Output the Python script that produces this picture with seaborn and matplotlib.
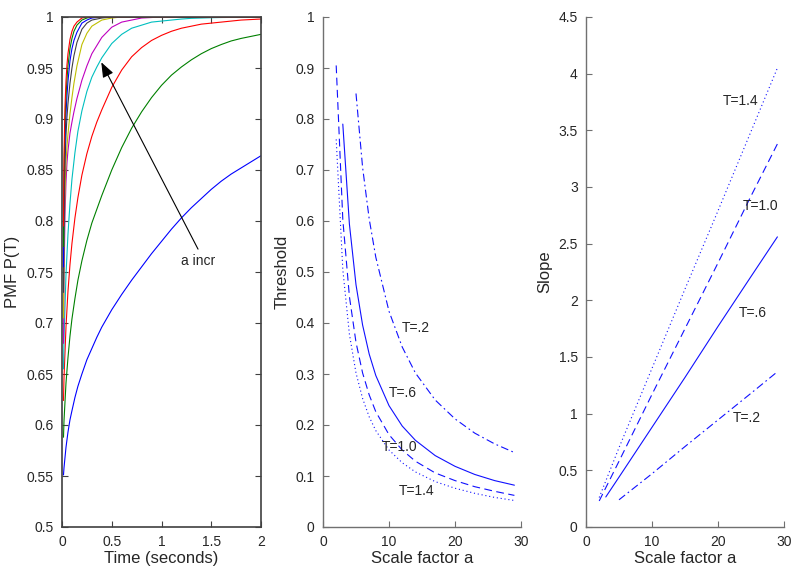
import matplotlib
matplotlib.use("Agg")
import matplotlib.pyplot as plt
from matplotlib.ticker import FuncFormatter, MultipleLocator
import seaborn as sns

# ---- left panel: PMF P(T) for increasing scale factor a ----
# slower curves (read on a fine time grid)
t_slow = [0.015, 0.02, 0.04, 0.06, 0.08, 0.1, 0.13, 0.16, 0.2, 0.25, 0.3, 0.35, 0.4, 0.5, 0.6,
          0.7, 0.8, 0.9, 1.0, 1.1, 1.2, 1.3, 1.4, 1.5, 1.6, 1.7, 1.8, 1.9, 2.0]
pmf_1 = [0.551, 0.558, 0.578, 0.593, 0.605, 0.614, 0.627, 0.638, 0.650, 0.664, 0.675, 0.686, 0.696, 0.713, 0.728,
         0.742, 0.755, 0.768, 0.780, 0.792, 0.803, 0.813, 0.822, 0.831, 0.839, 0.846, 0.852, 0.858, 0.864]
pmf_2 = [0.588, 0.604, 0.641, 0.666, 0.687, 0.704, 0.724, 0.742, 0.761, 0.781, 0.798, 0.8115, 0.825, 0.850, 0.872,
         0.891, 0.907, 0.921, 0.933, 0.943, 0.951, 0.958, 0.964, 0.969, 0.973, 0.9765, 0.979, 0.981, 0.983]
pmf_3 = [0.624, 0.646, 0.696, 0.731, 0.757, 0.778, 0.803, 0.823, 0.845, 0.866, 0.883, 0.897, 0.909, 0.931, 0.948,
         0.961, 0.970, 0.977, 0.982, 0.986, 0.989, 0.991, 0.993, 0.994, 0.995, 0.996, 0.997, 0.9975, 0.998]
pmf_4 = [0.655, 0.684, 0.747, 0.787, 0.817, 0.841, 0.867, 0.888, 0.908, 0.927, 0.941, 0.951, 0.960, 0.974, 0.983,
         0.989, 0.992, 0.995, 0.996, 0.997, 0.998, 0.9987, 0.999, 0.9993, 0.9995, 0.9996, 0.9997, 0.9998, 0.9998]

# faster curves (they saturate early)
t_fast = [0.015, 0.02, 0.03, 0.04, 0.05, 0.06, 0.08, 0.1, 0.12, 0.15, 0.2, 0.25, 0.3, 0.4, 0.5,
          0.6, 0.8, 1.0, 1.5, 2.0]
pmf_5 = [0.680, 0.740, 0.805, 0.838, 0.857, 0.869, 0.886, 0.897, 0.907, 0.920, 0.938, 0.952, 0.964, 0.980, 0.990,
         0.995, 0.999, 1, 1, 1]
pmf_6 = [0.705, 0.770, 0.830, 0.858, 0.873, 0.885, 0.905, 0.921, 0.935, 0.952, 0.973, 0.984, 0.991, 0.997, 0.999,
         1, 1, 1, 1, 1]
pmf_7 = [0.730, 0.800, 0.855, 0.884, 0.902, 0.915, 0.935, 0.950, 0.962, 0.975, 0.988, 0.994, 0.997, 0.999, 1,
         1, 1, 1, 1, 1]
pmf_8 = [0.755, 0.825, 0.878, 0.905, 0.923, 0.937, 0.957, 0.969, 0.977, 0.985, 0.994, 0.997, 0.999, 1, 1,
         1, 1, 1, 1, 1]
pmf_9 = [0.775, 0.845, 0.897, 0.922, 0.939, 0.952, 0.969, 0.979, 0.986, 0.992, 0.997, 0.999, 1, 1, 1,
         1, 1, 1, 1, 1]
pmf_10 = [0.795, 0.862, 0.912, 0.937, 0.953, 0.964, 0.978, 0.986, 0.991, 0.995, 0.999, 1, 1, 1, 1,
          1, 1, 1, 1, 1]

# ---- middle panel: threshold vs scale factor ----
thr_a_02 = [5, 6, 7, 8, 10, 12, 14, 17, 20, 23, 26, 29]
thr_02 = [0.850, 0.705, 0.604, 0.529, 0.423, 0.353, 0.302, 0.249, 0.212, 0.184, 0.163, 0.146]
thr_a_06 = [3, 4, 5, 6, 7, 8, 10, 12, 14, 17, 20, 23, 26, 29]
thr_06 = [0.790, 0.594, 0.475, 0.396, 0.339, 0.297, 0.238, 0.198, 0.170, 0.140, 0.119, 0.103, 0.091, 0.082]
thr_a_10 = [2, 3, 4, 5, 6, 7, 8, 10, 12, 14, 17, 20, 23, 26, 29]
thr_10 = [0.905, 0.603, 0.452, 0.362, 0.302, 0.259, 0.226, 0.181, 0.151, 0.129, 0.106, 0.091, 0.079, 0.070, 0.062]
thr_a_14 = [2, 3, 4, 5, 6, 7, 8, 10, 12, 14, 17, 20, 23, 26, 29]
thr_14 = [0.760, 0.505, 0.378, 0.302, 0.252, 0.216, 0.189, 0.151, 0.126, 0.108, 0.089, 0.076, 0.066, 0.058, 0.052]

# ---- right panel: slope vs scale factor ----
slp_a_02 = [5, 10, 15, 20, 25, 29]
slp_02 = [0.24, 0.47, 0.71, 0.945, 1.18, 1.37]
slp_a_06 = [3, 5, 10, 15, 20, 25, 29]
slp_06 = [0.265, 0.44, 0.88, 1.32, 1.77, 2.21, 2.56]
slp_a_10 = [2, 5, 10, 15, 20, 25, 29]
slp_10 = [0.23, 0.58, 1.17, 1.75, 2.33, 2.92, 3.38]
slp_a_14 = [2, 5, 10, 15, 20, 25, 29]
slp_14 = [0.26, 0.70, 1.40, 2.10, 2.79, 3.49, 4.05]

sns.set_theme(style="white")
plt.rcParams['font.family'] = ['Liberation Sans', 'DejaVu Sans']
plt.rcParams['font.size'] = 10

fig = plt.figure(figsize=(8, 5.7), dpi=100)
ax1 = fig.add_axes([62 / 800, 43 / 570, 199 / 800, 510 / 570])
ax2 = fig.add_axes([323 / 800, 43 / 570, 198 / 800, 510 / 570])
ax3 = fig.add_axes([586 / 800, 43 / 570, 198 / 800, 510 / 570])

# MATLAB default colour cycle
curves = [(t_slow, pmf_1, '#0000ff'), (t_slow, pmf_2, '#008000'), (t_slow, pmf_3, '#ff0000'),
          (t_slow, pmf_4, '#00bfbf'), (t_fast, pmf_5, '#bf00bf'), (t_fast, pmf_6, '#bfbf00'),
          (t_fast, pmf_7, '#404040'), (t_fast, pmf_8, '#0000ff'), (t_fast, pmf_9, '#008000'),
          (t_fast, pmf_10, '#ff0000')]
for tt, vals, c in curves:
    sns.lineplot(x=tt, y=vals, ax=ax1, color=c, lw=0.8)

ax1.annotate('', xy=(0.382, 0.958), xytext=(1.38, 0.770),
             arrowprops=dict(arrowstyle='-|>,head_length=0.65,head_width=0.25',
                             color='black', lw=0.8, mutation_scale=14))
ax1.text(1.2, 0.761, 'a incr', ha='left', va='center', fontsize=10)

blue = '#1010ff'
dashdot = (0, (7, 3, 1.5, 3))
dashed = (0, (7, 4))
dotted = (0, (1, 2.5))

sns.lineplot(x=thr_a_02, y=thr_02, ax=ax2, color=blue, lw=0.8, linestyle=dashdot)
sns.lineplot(x=thr_a_06, y=thr_06, ax=ax2, color=blue, lw=0.8)
sns.lineplot(x=thr_a_10, y=thr_10, ax=ax2, color=blue, lw=0.8, linestyle=dashed)
sns.lineplot(x=thr_a_14, y=thr_14, ax=ax2, color=blue, lw=0.8, linestyle=dotted)
ax2.text(12.0, 0.39, 'T=.2', va='center')
ax2.text(9.9, 0.263, 'T=.6', va='center')
ax2.text(8.9, 0.156, 'T=1.0', va='center')
ax2.text(11.5, 0.070, 'T=1.4', va='center')

sns.lineplot(x=slp_a_02, y=slp_02, ax=ax3, color=blue, lw=0.8, linestyle=dashdot)
sns.lineplot(x=slp_a_06, y=slp_06, ax=ax3, color=blue, lw=0.8)
sns.lineplot(x=slp_a_10, y=slp_10, ax=ax3, color=blue, lw=0.8, linestyle=dashed)
sns.lineplot(x=slp_a_14, y=slp_14, ax=ax3, color=blue, lw=0.8, linestyle=dotted)
ax3.text(20.7, 3.76, 'T=1.4', va='center')
ax3.text(23.7, 2.83, 'T=1.0', va='center')
ax3.text(23.1, 1.89, 'T=.6', va='center')
ax3.text(22.3, 0.96, 'T=.2', va='center')

fmt = FuncFormatter(lambda v, p: f"{v:g}")

ax1.set_xlim(0, 2)
ax1.set_ylim(0.5, 1)
ax1.xaxis.set_major_locator(MultipleLocator(0.5))
ax1.yaxis.set_major_locator(MultipleLocator(0.05))
ax1.set_xlabel('Time (seconds)')
ax1.set_ylabel('PMF P(T)')
ax1.yaxis.set_label_coords(-0.211, 0.5)
for s in ax1.spines.values():
    s.set_visible(True)
    s.set_color('#404040')
    s.set_linewidth(1.2)
ax1.tick_params(direction='in', length=4, width=0.8, color='#404040', top=True, right=True,
                bottom=True, left=True, labelsize=10, pad=6)

ax2.set_xlim(0, 30)
ax2.set_ylim(0, 1)
ax2.xaxis.set_major_locator(MultipleLocator(10))
ax2.yaxis.set_major_locator(MultipleLocator(0.1))
ax2.set_xlabel('Scale factor a')
ax2.set_ylabel('Threshold')
ax2.yaxis.set_label_coords(-0.167, 0.5)

ax3.set_xlim(0, 30)
ax3.set_ylim(0, 4.5)
ax3.xaxis.set_major_locator(MultipleLocator(10))
ax3.yaxis.set_major_locator(MultipleLocator(0.5))
ax3.set_xlabel('Scale factor a')
ax3.set_ylabel('Slope')
ax3.yaxis.set_label_coords(-0.172, 0.5)

for ax in (ax2, ax3):
    ax.spines['top'].set_visible(False)
    ax.spines['right'].set_visible(False)
    for side in ('left', 'bottom'):
        ax.spines[side].set_color('#707070')
        ax.spines[side].set_linewidth(1.0)
    ax.tick_params(direction='in', length=4, width=0.8, color='#707070',
                   bottom=True, left=True, labelsize=10, pad=6)

for ax in (ax1, ax2, ax3):
    ax.xaxis.set_major_formatter(fmt)
    ax.yaxis.set_major_formatter(fmt)
    ax.xaxis.set_label_coords(0.5, -0.048)
    ax.grid(False)

fig.savefig('out.png', dpi=100)
